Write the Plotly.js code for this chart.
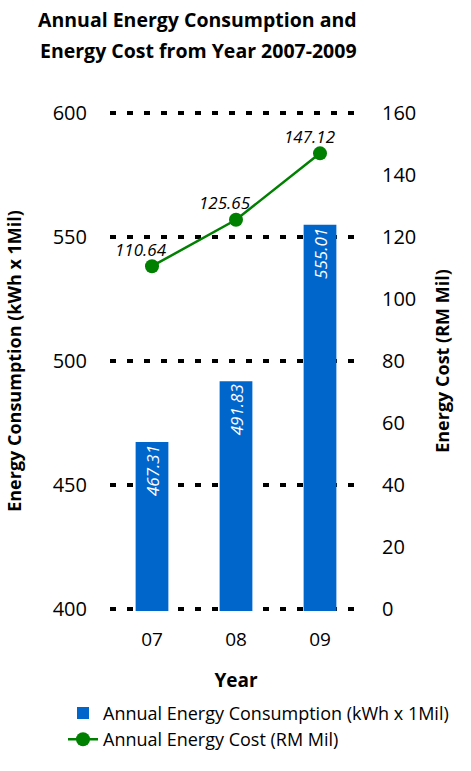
<!DOCTYPE html>
<html>
<head>
<meta charset="utf-8">
<script src="https://cdn.plot.ly/plotly-3.0.1.min.js"></script>
<style>html,body{margin:0;padding:0;background:#fff;}#chart{width:471px;height:771px;}</style>
</head>
<body>
<div id="chart"></div>
<script>
const years = ["07", "08", "09"];
const consumption = [467.31, 491.83, 555.01];
const cost = [110.64, 125.65, 147.12];
const leftTicks = [400, 450, 500, 550, 600];
const rightTicks = [0, 20, 40, 60, 80, 100, 120, 140, 160];
const titleLines = ["Annual Energy Consumption and", "Energy Cost from Year 2007-2009"];

const FONT = "Open Sans, Noto Sans, sans-serif";
const W = 471, H = 771;
const M = {l: 110, r: 109, t: 110.5, b: 159.5};
const PW = W - M.l - M.r, PH = H - M.t - M.b;

const barTrace = {
  type: "bar",
  x: years,
  y: consumption,
  name: "Annual Energy Consumption (kWh x 1Mil)",
  marker: {color: "#0066CC"},
  width: 0.39,
  text: consumption.map(v => v.toFixed(2)),
  textposition: "inside",
  insidetextanchor: "end",
  textangle: -90,
  texttemplate: "<i>%{text}</i>",
  insidetextfont: {color: "#ffffff", size: 17, family: FONT},
  constraintext: "none",
  hoverinfo: "skip"
};

const lineTrace = {
  type: "scatter",
  mode: "lines+markers",
  x: years,
  y: cost,
  yaxis: "y2",
  name: "Annual Energy Cost (RM Mil)",
  line: {color: "#008000", width: 2.5},
  marker: {color: "#008000", size: 14},
  cliponaxis: false,
  hoverinfo: "skip"
};

const annotations = years.map((yr, i) => ({
  x: i, y: cost[i], xref: "x", yref: "y2",
  text: "<i>" + cost[i].toFixed(2) + "</i>",
  showarrow: false, xshift: -11, yshift: 17,
  font: {size: 17, color: "#000", family: FONT}
}));
annotations.push({
  xref: "paper", yref: "paper",
  x: (38 - M.l) / PW, xanchor: "left",
  y: 1 + (M.t - 50) / PH, yanchor: "middle",
  text: "<b>" + titleLines[1] + "</b>",
  showarrow: false,
  font: {size: 19.5, color: "#000", family: FONT}
});

const layout = {
  width: W, height: H,
  paper_bgcolor: "#fff", plot_bgcolor: "#fff",
  margin: M,
  font: {family: FONT, color: "#000", size: 19},
  title: {
    text: "<b>" + titleLines[0] + "</b>",
    x: 38/W, xanchor: "left", xref: "container",
    y: 1 - 20/H, yanchor: "middle", yref: "container",
    font: {size: 19.5, family: FONT, color: "#000"}
  },
  showlegend: true,
  legend: {
    orientation: "v", xref: "paper", yref: "paper",
    x: (63 - M.l) / PW, xanchor: "left",
    y: -147 / PH, yanchor: "bottom",
    font: {size: 18, family: FONT}, tracegroupgap: 0, itemwidth: 30,
    bgcolor: "rgba(0,0,0,0)"
  },
  xaxis: {
    type: "category",
    range: [-0.5, 2.5],
    tickfont: {size: 19},
    tickangle: 0,
    ticks: "", showline: false, showgrid: false, zeroline: false,
    ticklabelstandoff: 15,
    title: {text: "<b>Year</b>", font: {size: 19}, standoff: 22}
  },
  yaxis: {
    range: [399, 601],
    tickvals: leftTicks,
    tickfont: {size: 20},
    showgrid: true, gridcolor: "#000", gridwidth: 4, griddash: "6px,11px",
    zeroline: false, showline: false, ticks: "", ticklabelstandoff: 22,
    title: {text: "<b>Energy Consumption (kWh x 1Mil)</b>", font: {size: 18}, standoff: 26}
  },
  yaxis2: {
    overlaying: "y", side: "right",
    range: [-0.8, 160.8],
    tickvals: rightTicks,
    tickfont: {size: 20},
    showgrid: false, zeroline: false, showline: false, ticks: "", ticklabelstandoff: 19,
    title: {text: "<b>Energy Cost (RM Mil)</b>", font: {size: 18}, standoff: 21}
  },
  annotations: annotations
};

Plotly.newPlot("chart", [barTrace, lineTrace], layout, {staticPlot: true});
</script>
</body>
</html>
